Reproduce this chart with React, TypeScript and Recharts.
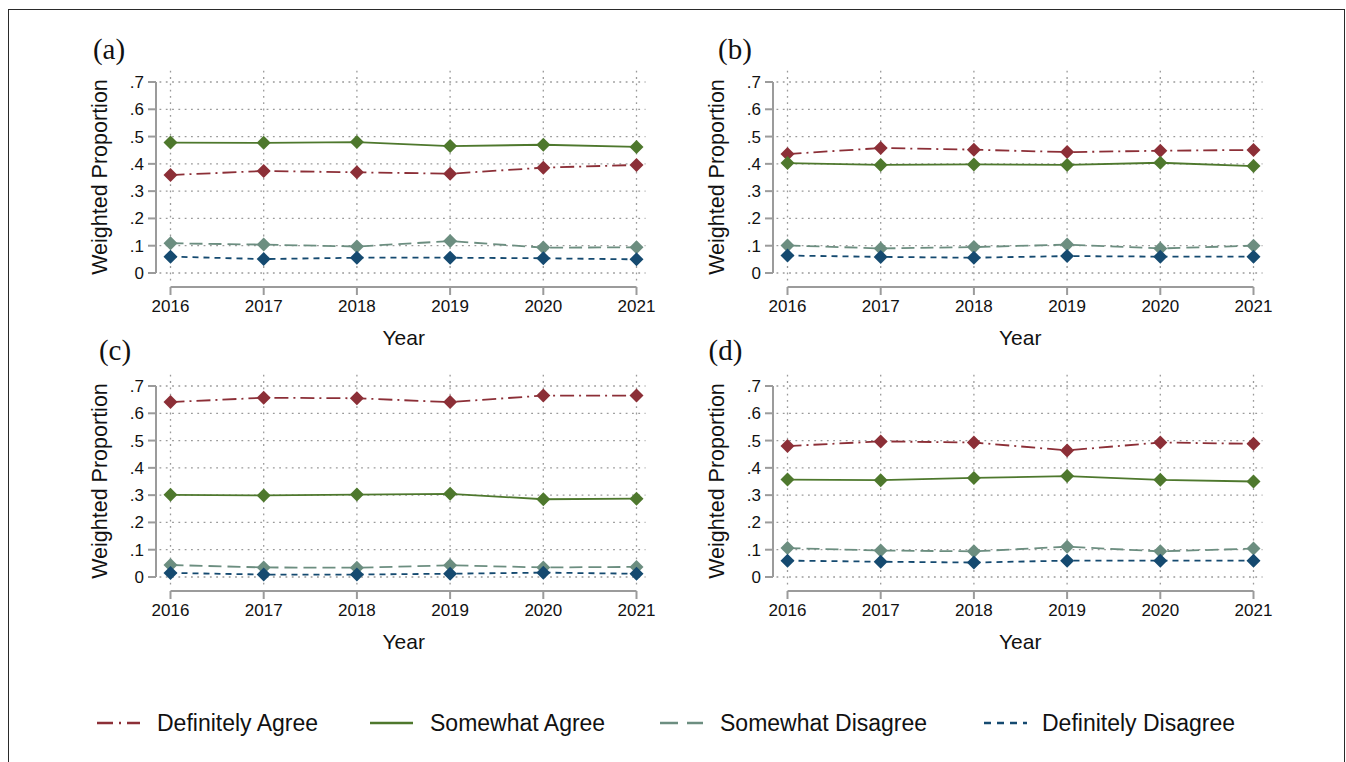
import React from 'react';
import { LineChart, Line, XAxis, YAxis, ReferenceLine } from 'recharts';

const YEARS = [2016, 2017, 2018, 2019, 2020, 2021];
const Y_TICKS = [0, 0.1, 0.2, 0.3, 0.4, 0.5, 0.6, 0.7];

// panel (a)
const aDefAgree = [0.359, 0.374, 0.369, 0.364, 0.386, 0.396];
const aSomAgree = [0.478, 0.477, 0.48, 0.465, 0.47, 0.462];
const aSomDis = [0.109, 0.104, 0.097, 0.117, 0.093, 0.094];
const aDefDis = [0.06, 0.051, 0.056, 0.056, 0.054, 0.05];

// panel (b)
const bDefAgree = [0.436, 0.458, 0.452, 0.443, 0.448, 0.451];
const bSomAgree = [0.403, 0.396, 0.398, 0.396, 0.404, 0.392];
const bSomDis = [0.101, 0.09, 0.095, 0.104, 0.09, 0.1];
const bDefDis = [0.064, 0.059, 0.056, 0.062, 0.06, 0.06];

// panel (c)
const cDefAgree = [0.641, 0.657, 0.655, 0.641, 0.665, 0.665];
const cSomAgree = [0.301, 0.299, 0.302, 0.305, 0.285, 0.287];
const cSomDis = [0.044, 0.035, 0.034, 0.043, 0.035, 0.037];
const cDefDis = [0.015, 0.009, 0.009, 0.012, 0.016, 0.012];

// panel (d)
const dDefAgree = [0.48, 0.497, 0.493, 0.464, 0.493, 0.488];
const dSomAgree = [0.357, 0.355, 0.363, 0.37, 0.356, 0.35];
const dSomDis = [0.106, 0.097, 0.094, 0.111, 0.094, 0.104];
const dDefDis = [0.06, 0.056, 0.053, 0.06, 0.06, 0.06];

const SERIES = [
  { key: 'da', name: 'Definitely Agree', color: '#8c2f37', dash: '14 5 2 5', legendDash: '16 6 2 6' },
  { key: 'sa', name: 'Somewhat Agree', color: '#4e782d', dash: undefined, legendDash: undefined },
  { key: 'sd', name: 'Somewhat Disagree', color: '#6c8e80', dash: '13 6', legendDash: '18 9' },
  { key: 'dd', name: 'Definitely Disagree', color: '#154a70', dash: '6 5', legendDash: '7 6' },
];

const FONT = '"Liberation Sans", Arial, Helvetica, sans-serif';
const SERIF = '"Liberation Serif", "Times New Roman", serif';
const AXIS = '#9b9b9b';
const GRID = '#9a9a9a';

const X_MIN = 2016 - 14.5 / 93.2;
const X_MAX = 2021 + 9 / 93.2;
const GRID_X0 = 2016 - 11 / 93.2;
const Y_MIN = -14 / 272.8;
const Y_MAX = 0.7 + 13 / 272.8;
const GRID_Y0 = -7.5 / 272.8;

const PANELS = [
  { label: '(a)', xs: 170.7, y0: 272.7, lx: 109, ly: 49, da: aDefAgree, sa: aSomAgree, sd: aSomDis, dd: aDefDis },
  { label: '(b)', xs: 787.2, y0: 272.7, lx: 735, ly: 49, da: bDefAgree, sa: bSomAgree, sd: bSomDis, dd: bDefDis },
  { label: '(c)', xs: 170.7, y0: 576.7, lx: 115, ly: 350, da: cDefAgree, sa: cSomAgree, sd: cSomDis, dd: cDefDis },
  { label: '(d)', xs: 787.2, y0: 576.7, lx: 725.5, ly: 350, da: dDefAgree, sa: dSomAgree, sd: dSomDis, dd: dDefDis },
];

const LEGEND_X = [97, 370, 660, 984];

const diamond = (color: string) => (props: any) => {
  const { cx, cy, index } = props;
  if (cx == null || cy == null) return <g key={index} />;
  const r = 7;
  return (
    <polygon
      key={index}
      points={`${cx},${cy - r} ${cx + r},${cy} ${cx},${cy + r} ${cx - r},${cy}`}
      fill={color}
      stroke="none"
    />
  );
};

const fmtY = (v: number) => (v === 0 ? '0' : '.' + Math.round(v * 10));

function Panel({ p }: { p: any }) {
  const rows = YEARS.map((year, i) => ({ year, da: p.da[i], sa: p.sa[i], sd: p.sd[i], dd: p.dd[i] }));
  const x0 = p.xs - 14.5;
  const plotW = (X_MAX - X_MIN) * 93.2;
  const chartW = 680;
  return (
    <>
      <div style={{ position: 'absolute', left: x0 - 130, top: p.y0 - 234 }}>
        <LineChart
          width={chartW}
          height={300}
          data={rows}
          margin={{ top: 30, right: chartW - 130 - plotW, bottom: 12, left: 70 }}
        >
          <XAxis
            type="number"
            dataKey="year"
            domain={[X_MIN, X_MAX]}
            ticks={YEARS}
            interval={0}
            allowDataOverflow
            axisLine={false}
            stroke={AXIS}
            tickLine={{ stroke: AXIS, strokeWidth: 2 }}
            tickSize={8}
            tickMargin={5}
            height={40}
            tick={{ fill: '#111', fontSize: 17, fontFamily: FONT }}
          />
          <YAxis
            type="number"
            domain={[Y_MIN, Y_MAX]}
            ticks={Y_TICKS}
            interval={0}
            allowDataOverflow
            axisLine={false}
            stroke={AXIS}
            tickLine={{ stroke: AXIS, strokeWidth: 2 }}
            tickSize={8}
            tickMargin={4}
            width={60}
            tickFormatter={fmtY}
            tick={{ fill: '#111', fontSize: 17, fontFamily: FONT }}
          />
          {Y_TICKS.map((t) => (
            <ReferenceLine
              key={'h' + t}
              segment={[{ x: GRID_X0, y: t }, { x: X_MAX, y: t }]}
              stroke={GRID}
              strokeWidth={1.3}
              strokeDasharray="1.8 4.5"
            />
          ))}
          {YEARS.map((y) => (
            <ReferenceLine
              key={'v' + y}
              segment={[{ x: y, y: GRID_Y0 }, { x: y, y: Y_MAX }]}
              stroke={GRID}
              strokeWidth={1.3}
              strokeDasharray="1.8 4.5"
            />
          ))}
          <ReferenceLine segment={[{ x: X_MIN, y: 0 }, { x: X_MIN, y: 0.7 }]} stroke={AXIS} strokeWidth={2} />
          <ReferenceLine segment={[{ x: 2016, y: Y_MIN }, { x: 2021, y: Y_MIN }]} stroke={AXIS} strokeWidth={2} />
          {SERIES.map((s) => (
            <Line
              key={s.key}
              type="linear"
              dataKey={s.key}
              name={s.name}
              stroke={s.color}
              strokeWidth={1.8}
              strokeDasharray={s.dash}
              dot={diamond(s.color)}
              activeDot={false}
              isAnimationActive={false}
            />
          ))}
        </LineChart>
      </div>
      <div
        style={{
          position: 'absolute',
          left: x0 - 55,
          top: p.y0 - 95.5,
          transform: 'translate(-50%, -50%) rotate(-90deg)',
          fontFamily: FONT,
          fontSize: 21.5,
          lineHeight: 1,
          whiteSpace: 'nowrap',
          color: '#111',
        }}
      >
        Weighted Proportion
      </div>
      <div
        style={{
          position: 'absolute',
          left: p.xs + 233,
          top: p.y0 + 64,
          transform: 'translate(-50%, -50%)',
          fontFamily: FONT,
          fontSize: 21,
          lineHeight: 1,
          color: '#111',
        }}
      >
        Year
      </div>
      <div
        style={{
          position: 'absolute',
          left: p.lx,
          top: p.ly,
          transform: 'translate(-50%, -50%)',
          fontFamily: SERIF,
          fontSize: 29,
          lineHeight: 1,
          color: '#111',
        }}
      >
        {p.label}
      </div>
    </>
  );
}

export default function App() {
  return (
    <div
      style={{
        position: 'absolute',
        left: 0,
        top: 0,
        width: 1346,
        height: 762,
        overflow: 'hidden',
        background: '#fff',
      }}
    >
      <div
        style={{
          position: 'absolute',
          left: 8,
          top: 9,
          width: 1337,
          height: 800,
          border: '1.8px solid #2a2a2a',
          boxSizing: 'border-box',
        }}
      />
      {PANELS.map((p) => (
        <Panel key={p.label} p={p} />
      ))}
      <svg width={1346} height={50} style={{ position: 'absolute', left: 0, top: 698 }}>
        {SERIES.map((s, i) => (
          <g key={s.key}>
            <line
              x1={LEGEND_X[i]}
              x2={LEGEND_X[i] + 43}
              y1={25}
              y2={25}
              stroke={s.color}
              strokeWidth={2.4}
              strokeDasharray={s.legendDash}
            />
            <text
              x={LEGEND_X[i] + (i === 3 ? 58 : 60)}
              y={25}
              dy="0.36em"
              fontFamily={FONT}
              fontSize={23}
              fill="#111"
            >
              {s.name}
            </text>
          </g>
        ))}
      </svg>
    </div>
  );
}
